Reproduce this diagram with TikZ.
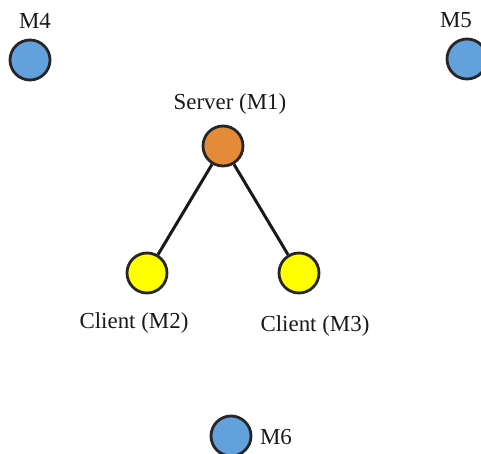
\documentclass[tikz,border=0pt]{standalone}
\usepackage{fontspec}
\setmainfont{Liberation Serif}
\begin{document}
\begin{tikzpicture}[x=1bp,y=-1bp,
  machine/.style={circle,draw=black!85,line width=2.8bp,minimum size=40bp,inner sep=0pt},
  idle/.style={machine,fill=idleblue},
  server/.style={machine,fill=serverorange},
  client/.style={machine,fill=clientyellow},
  tag/.style={font=\fontsize{23}{25}\selectfont,inner sep=0pt,text=black!90},
  link/.style={line width=3bp,black!90}]
\definecolor{idleblue}{HTML}{63A1DC}
\definecolor{serverorange}{HTML}{E38B38}
\definecolor{clientyellow}{HTML}{FFFF00}
\useasboundingbox (0,0) rectangle (481,454);
% machines
\node[idle]   (m4) at (30,60)   {};
\node[idle]   (m5) at (467,59)  {};
\node[server] (m1) at (223,146) {};
\node[client] (m2) at (147,273) {};
\node[client] (m3) at (299,273) {};
\node[idle]   (m6) at (231,436) {};
% labels
\node[tag] (l4) at (35,21)   {M4};
\node[tag] (l5) at (456,20)  {M5};
\node[tag] (l1) at (230,104) {Server (M1)};
\node[tag] (l2) at (134,323) {Client (M2)};
\node[tag] (l3) at (315,326) {Client (M3)};
\node[tag] (l6) at (276,437) {M6};
% connections
\draw[link] (m1) -- (m2);
\draw[link] (m1) -- (m3);
\end{tikzpicture}
\end{document}
